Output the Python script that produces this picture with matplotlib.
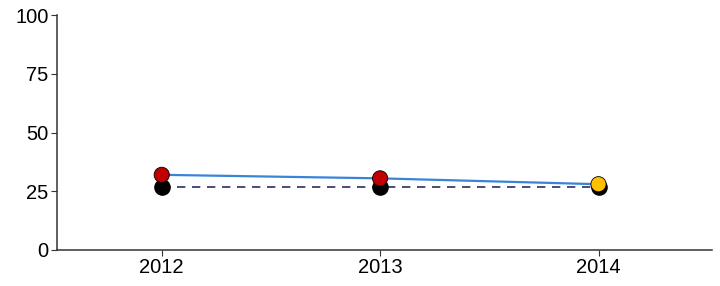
import numpy as np
import matplotlib.pyplot as plt

plt.rcParams['font.family'] = ['Liberation Sans', 'DejaVu Sans']

years = [2012, 2013, 2014]
actual = [32, 30.5, 28]
target = [27, 27, 27]
dot_colors = ['#c00000', '#c00000', '#ffc000']

fig = plt.figure(figsize=(7.2, 2.86), dpi=100)
ax = fig.add_axes([0.079, 0.126, 0.910, 0.821])

# target (dashed) with black dots
ax.plot(years, target, linestyle=(0, (5, 4)), color='#2e2e5e', lw=1.2, zorder=2)
ax.scatter(years, target, s=120, color='black', zorder=3)

# actual values
ax.plot(years, actual, color='#3a84d8', lw=1.6, zorder=4)
ax.scatter(years, actual, s=120, c=dot_colors, edgecolors='black', linewidths=0.6, zorder=5)

ax.set_xlim(2011.52, 2014.52)
ax.set_ylim(0, 100)
ax.set_xticks(years)
ax.set_xticklabels([str(y) for y in years])
ax.set_yticks([0, 25, 50, 75, 100])

for s in ['top', 'right']:
    ax.spines[s].set_visible(False)
for s in ['left', 'bottom']:
    ax.spines[s].set_color('#333333')
    ax.spines[s].set_linewidth(1.1)
ax.tick_params(labelsize=14.5, colors='#333333', labelcolor='black', length=4, pad=2)

fig.savefig('out.png', dpi=100)
